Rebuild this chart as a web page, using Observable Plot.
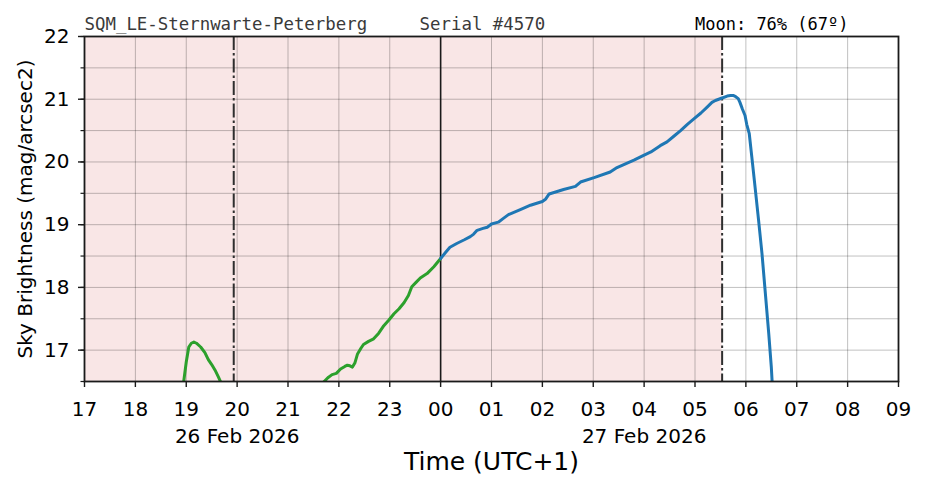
<!DOCTYPE html>
<html>
<head>
<meta charset="utf-8">
<script src="https://cdn.jsdelivr.net/npm/d3@7"></script>
<script src="https://cdn.jsdelivr.net/npm/@observablehq/plot@0.6"></script>
<style>
  html, body { margin: 0; padding: 0; background: #fff; }
  svg { display: block; }
</style>
</head>
<body>
<div id="chart"></div>
<script>
// ---- texts ----
const stationLabel = "SQM_LE-Sternwarte-Peterberg";
const serialLabel = "Serial #4570";
const moonLabel = "Moon: 76% (67º)";
const yLabel = "Sky Brightness (mag/arcsec2)";
const xLabel = "Time (UTC+1)";

// ---- axes ----
const xStart = "17:00";       // 26 Feb 2026
const xEnd = "09:00";         // 27 Feb 2026
const yMin = 16.5, yMax = 22;
const yMajorTicks = [17, 18, 19, 20, 21, 22];
const yMinorTicks = [16.5, 17, 17.5, 18, 18.5, 19, 19.5, 20, 20.5, 21, 21.5, 22];
const dateTickLabels = { "20": "26 Feb 2026", "04": "27 Feb 2026" };

// ---- events ----
const midnight = "00:00";
const twilightTimes = ["19:56", "05:32"];
const nightStart = "17:00", nightEnd = "05:32";

// ---- series (times UTC+1; hour < 12 means 27 Feb) ----
const bumpTimes = ["18:54","18:57","19:00","19:03","19:06","19:09","19:12","19:17","19:22","19:26","19:30","19:34","19:38","19:40","19:43"];
const bumpMag   = [16.30, 16.50, 16.81, 17.05, 17.11, 17.13, 17.11, 17.05, 16.96, 16.85, 16.77, 16.68, 16.57, 16.51, 16.40];

const riseTimes = ["21:38","21:42","21:47","21:52","21:57","22:02","22:07","22:10","22:13","22:16","22:19","22:22","22:26","22:29","22:35","22:41","22:47","22:53","22:59","23:05","23:11","23:17","23:22","23:26","23:31","23:36","23:44","23:52","00:00"];
const riseMag   = [16.38, 16.49, 16.56, 16.61, 16.63, 16.70, 16.74, 16.76, 16.75, 16.73, 16.80, 16.94, 17.03, 17.09, 17.14, 17.18, 17.27, 17.39, 17.48, 17.58, 17.66, 17.76, 17.87, 18.01, 18.08, 18.15, 18.22, 18.33, 18.46];

const morningTimes = ["00:00","00:06","00:11","00:19","00:28","00:35","00:39","00:43","00:50","00:55","01:00","01:08","01:14","01:20","01:34","01:46","02:00","02:04","02:08","02:25","02:39","02:45","03:01","03:20","03:28","03:38","03:48","03:57","04:08","04:19","04:27","04:35","04:43","04:51","04:59","05:07","05:14","05:20","05:24","05:32","05:38","05:42","05:45","05:48","05:51","05:53","05:56","05:59","06:01","06:04","06:07","06:11","06:15","06:19","06:23","06:27","06:30","06:31","06:33"];
const morningMag   = [18.46, 18.56, 18.64, 18.70, 18.76, 18.81, 18.85, 18.91, 18.94, 18.96, 19.01, 19.04, 19.10, 19.16, 19.24, 19.31, 19.37, 19.41, 19.49, 19.56, 19.61, 19.68, 19.75, 19.84, 19.91, 19.97, 20.03, 20.09, 20.16, 20.26, 20.32, 20.41, 20.50, 20.60, 20.69, 20.78, 20.87, 20.95, 20.98, 21.02, 21.05, 21.06, 21.06, 21.04, 21.01, 20.95, 20.84, 20.74, 20.60, 20.45, 20.08, 19.58, 19.07, 18.54, 17.90, 17.26, 16.73, 16.49, 16.30];

// ---- helpers ----
const parseTime = s => {
  const [h, m] = s.split(":").map(Number);
  return new Date(Date.UTC(2026, 1, h < 12 ? 27 : 26, h, m));
};
const toRows = (times, mags) => times.map((t, i) => ({ time: parseTime(t), mag: mags[i] }));

const bump = toRows(bumpTimes, bumpMag);
const rise = toRows(riseTimes, riseMag);
const morning = toRows(morningTimes, morningMag);

const x0 = parseTime(xStart), x1 = parseTime(xEnd);
const hourTicks = d3.utcHour.range(x0, new Date(+x1 + 1));
const fmtHour = d3.utcFormat("%H");
const tickFormat = d => {
  const h = fmtHour(d);
  return dateTickLabels[h] ? h + "\n" + dateTickLabels[h] : h;
};

const nightBand = [{ start: parseTime(nightStart), end: parseTime(nightEnd), lo: yMin, hi: yMax }];

const gridStyle = { stroke: "black", strokeOpacity: 0.28, strokeWidth: 0.9 };

const chart = Plot.plot({
  width: 926,
  height: 488,
  marginLeft: 84,
  marginRight: 28,
  marginTop: 36,
  marginBottom: 107,
  style: { fontFamily: "DejaVu Sans, sans-serif", fontSize: "20px", color: "black", background: "white", overflow: "visible" },
  x: { type: "utc", domain: [x0, x1] },
  y: { domain: [yMin, yMax] },
  marks: [
    Plot.rect(nightBand, { x1: "start", x2: "end", y1: "lo", y2: "hi", fill: "#f9e6e6" }),
    Plot.gridX(hourTicks, gridStyle),
    Plot.gridY(yMinorTicks, gridStyle),
    Plot.ruleX([parseTime(midnight)], { stroke: "#1a1a1a", strokeWidth: 1.6 }),
    Plot.ruleX(twilightTimes.map(parseTime), { stroke: "#2e2e2e", strokeWidth: 2, strokeDasharray: "14,3,2.5,3" }),
    Plot.line(bump, { x: "time", y: "mag", stroke: "#2ca02c", strokeWidth: 3, clip: true }),
    Plot.line(rise, { x: "time", y: "mag", stroke: "#2ca02c", strokeWidth: 3, clip: true }),
    Plot.line(morning, { x: "time", y: "mag", stroke: "#1f77b4", strokeWidth: 3, clip: true }),
    Plot.axisX(hourTicks, { tickFormat, tickSize: 6, tickPadding: 9, fontSize: 20, lineHeight: 1.35, label: null, stroke: "#1a1a1a", strokeWidth: 1.4 }),
    Plot.axisY(yMinorTicks, { tickFormat: () => "", tickSize: 3.5, label: null, stroke: "#1a1a1a", strokeWidth: 1.2 }),
    Plot.axisY(yMajorTicks, { tickFormat: d => String(d), tickSize: 6, tickPadding: 9, fontSize: 20, label: null, stroke: "#1a1a1a", strokeWidth: 1.4 }),
    Plot.frame({ stroke: "#1a1a1a", strokeWidth: 1.8 }),
    Plot.text([stationLabel + "     " + serialLabel], {
      text: d => d, frameAnchor: "top-left", textAnchor: "start", lineAnchor: "bottom",
      dy: -6.5, fontFamily: "DejaVu Sans Mono, monospace", fontSize: 17.4, fill: "#3a3a3a"
    }),
    Plot.text([moonLabel], {
      text: d => d, frameAnchor: "top-right", textAnchor: "end", lineAnchor: "bottom",
      dx: -50, dy: -6.5, fontFamily: "DejaVu Sans Mono, monospace", fontSize: 17, fill: "black"
    }),
    Plot.text([yLabel], {
      text: d => d, frameAnchor: "left", textAnchor: "middle", lineAnchor: "middle", rotate: -90, dx: -59, fontSize: 20, fill: "black"
    }),
    Plot.text([xLabel], {
      text: d => d, frameAnchor: "bottom", lineAnchor: "middle", dy: 80, fontSize: 25, fill: "black"
    })
  ]
});

document.getElementById("chart").appendChild(chart);
</script>
</body>
</html>
